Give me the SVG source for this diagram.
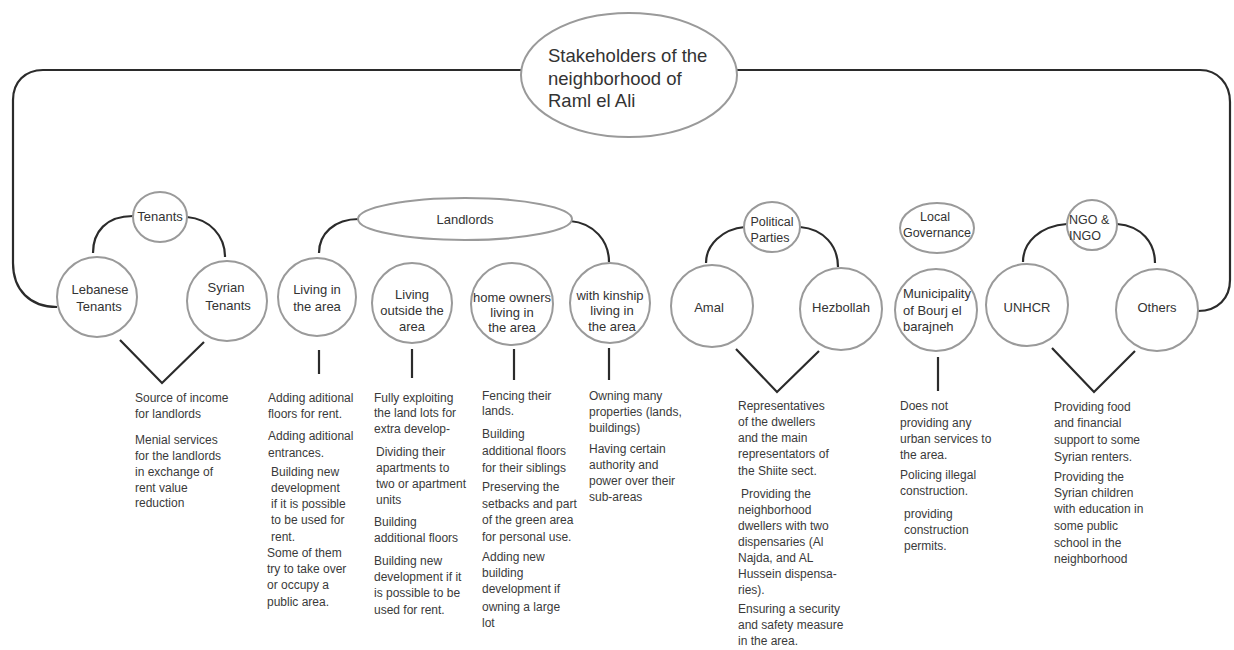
<svg xmlns="http://www.w3.org/2000/svg" width="1234" height="650" viewBox="0 0 1234 650">
  <style>
    .bubble { fill: #ffffff; stroke: #9a9a9a; stroke-width: 2; }
    .lbl { font-family: "Liberation Sans", Arial, sans-serif; font-size: 13px; fill: #333333; text-anchor: middle; }
    .lbl-l { font-family: "Liberation Sans", Arial, sans-serif; font-size: 13px; fill: #333333; }
    .title { font-family: "Liberation Sans", Arial, sans-serif; font-size: 18.5px; fill: #333333; }
    .blk { font-family: "Liberation Sans", Arial, sans-serif; font-size: 12px; fill: #3a3a3a; }
    #connectors path { fill: none; stroke: #2b2b2b; stroke-width: 2.2; }
  </style>
  <rect width="1234" height="650" fill="#ffffff"/>

  <!-- connectors: outer frame, group arcs, branch lines -->
  <g id="connectors">
    <path d="M521,70 L43,70 C25,70 13,82 13,100 L13,263 C13,290 30,307 57,307"/>
    <path d="M737,70 L1200,70 C1218,70 1230,84 1230,102 L1230,280 C1230,298 1218,311 1198,311"/>
    <!-- tenants -->
    <path d="M133,216 C106,216 93,232 93,253"/>
    <path d="M187,217 C210,219 225,236 225,257"/>
    <path d="M120,340 L162,383 L204,342"/>
    <!-- landlords -->
    <path d="M359,219 C334,219 319,234 319,253"/>
    <path d="M570,221 C594,223 609,241 609,262"/>
    <path d="M319,350 L319,374"/>
    <path d="M412,349 L412,378"/>
    <path d="M514,349 L514,380"/>
    <path d="M609,348 L609,380"/>
    <!-- political parties -->
    <path d="M745,227 C722,229 706,245 706,263"/>
    <path d="M800,227 C824,229 838,246 838,267"/>
    <path d="M736,349 L777,392 L819,351"/>
    <!-- local governance -->
    <path d="M938,357 L938,391"/>
    <!-- ngo -->
    <path d="M1067,224 C1040,226 1023,242 1023,262"/>
    <path d="M1117,224 C1142,226 1155,243 1155,263"/>
    <path d="M1052,348 L1094,392 L1135,351"/>
  </g>

  <g id="root">
    <ellipse class="bubble" cx="629" cy="75" rx="108" ry="62"/>
    <text class="title"><tspan x="548" y="62">Stakeholders of the</tspan><tspan x="548" y="85">neighborhood of</tspan><tspan x="548" y="107">Raml el Ali</tspan></text>
  </g>

  <!-- tenants -->
  <g id="tenants">
    <ellipse class="bubble" cx="160" cy="217" rx="27" ry="25"/>
    <text class="lbl" x="160" y="221">Tenants</text>
  </g>
  <g id="lebanese-tenants">
    <circle class="bubble" cx="97" cy="297" r="40"/>
    <text class="lbl"><tspan x="100" y="294">Lebanese</tspan><tspan x="99" y="311">Tenants</tspan></text>
  </g>
  <g id="syrian-tenants">
    <circle class="bubble" cx="227" cy="301" r="40"/>
    <text class="lbl"><tspan x="226" y="292">Syrian</tspan><tspan x="228" y="310">Tenants</tspan></text>
  </g>

  <!-- landlords -->
  <g id="landlords">
    <ellipse class="bubble" cx="465" cy="219" rx="107" ry="21"/>
    <text class="lbl" x="465" y="224">Landlords</text>
  </g>
  <g id="living-in-area">
    <circle class="bubble" cx="317" cy="297" r="39"/>
    <text class="lbl"><tspan x="317" y="294">Living in</tspan><tspan x="317" y="311">the area</tspan></text>
  </g>
  <g id="living-outside">
    <circle class="bubble" cx="412" cy="303" r="40"/>
    <text class="lbl"><tspan x="412" y="299">Living</tspan><tspan x="412" y="315">outside the</tspan><tspan x="412" y="331">area</tspan></text>
  </g>
  <g id="home-owners">
    <circle class="bubble" cx="512" cy="304" r="41"/>
    <text class="lbl"><tspan x="512" y="302">home owners</tspan><tspan x="512" y="317">living in</tspan><tspan x="512" y="332">the area</tspan></text>
  </g>
  <g id="kinship">
    <circle class="bubble" cx="610" cy="303" r="40"/>
    <text class="lbl"><tspan x="610" y="300">with kinship</tspan><tspan x="612" y="315">living in</tspan><tspan x="612" y="331">the area</tspan></text>
  </g>

  <!-- political parties -->
  <g id="political-parties">
    <ellipse class="bubble" cx="772" cy="227" rx="28" ry="25"/>
    <text class="lbl" style="font-size:12.5px"><tspan x="772" y="226">Political</tspan><tspan x="770" y="242">Parties</tspan></text>
  </g>
  <g id="amal">
    <circle class="bubble" cx="712" cy="306" r="41"/>
    <text class="lbl" x="709" y="312">Amal</text>
  </g>
  <g id="hezbollah">
    <circle class="bubble" cx="841" cy="309" r="41"/>
    <text class="lbl" x="841" y="312">Hezbollah</text>
  </g>

  <!-- local governance -->
  <g id="local-governance">
    <ellipse class="bubble" cx="937" cy="228" rx="37" ry="25"/>
    <text class="lbl" style="font-size:12.5px"><tspan x="935" y="221">Local</tspan><tspan x="937" y="237">Governance</tspan></text>
  </g>
  <g id="municipality">
    <circle class="bubble" cx="936" cy="310" r="41"/>
    <text class="lbl-l"><tspan x="903" y="298">Municipality</tspan><tspan x="903" y="315">of Bourj el</tspan><tspan x="903" y="331">barajneh</tspan></text>
  </g>

  <!-- ngo -->
  <g id="ngo">
    <ellipse class="bubble" cx="1092" cy="225" rx="25" ry="25"/>
    <text class="lbl-l" style="font-size:12.5px"><tspan x="1069" y="224">NGO &amp;</tspan><tspan x="1069" y="240">INGO</tspan></text>
  </g>
  <g id="unhcr">
    <circle class="bubble" cx="1027" cy="305" r="41"/>
    <text class="lbl" x="1027" y="312">UNHCR</text>
  </g>
  <g id="others">
    <circle class="bubble" cx="1157" cy="310" r="41"/>
    <text class="lbl" x="1157" y="312">Others</text>
  </g>

  <!-- role descriptions -->
  <g id="tenants-roles">
    <text class="blk">
      <tspan x="135" y="402">Source of income</tspan>
      <tspan x="135" y="418">for landlords</tspan>
      <tspan x="135" y="444">Menial services</tspan>
      <tspan x="135" y="460">for the landlords</tspan>
      <tspan x="135" y="476">in exchange of</tspan>
      <tspan x="135" y="492">rent value</tspan>
      <tspan x="135" y="507">reduction</tspan>
    </text>
  </g>
  <g id="living-in-area-roles">
    <text class="blk">
      <tspan x="268" y="402">Adding aditional</tspan>
      <tspan x="268" y="418">floors for rent.</tspan>
      <tspan x="268" y="440">Adding aditional</tspan>
      <tspan x="268" y="457">entrances.</tspan>
      <tspan x="271" y="476">Building new</tspan>
      <tspan x="271" y="492">development</tspan>
      <tspan x="271" y="508">if it is possible</tspan>
      <tspan x="271" y="524">to be used for</tspan>
      <tspan x="271" y="541">rent.</tspan>
      <tspan x="267" y="557">Some of them</tspan>
      <tspan x="267" y="573">try to take over</tspan>
      <tspan x="267" y="589">or occupy a</tspan>
      <tspan x="267" y="606">public area.</tspan>
    </text>
  </g>
  <g id="living-outside-roles">
    <text class="blk">
      <tspan x="374" y="402">Fully exploiting</tspan>
      <tspan x="374" y="417">the land lots for</tspan>
      <tspan x="374" y="433">extra develop-</tspan>
      <tspan x="376" y="456">Dividing their</tspan>
      <tspan x="376" y="472">apartments to</tspan>
      <tspan x="376" y="488">two or apartment</tspan>
      <tspan x="376" y="504">units</tspan>
      <tspan x="374" y="526">Building</tspan>
      <tspan x="374" y="542">additional floors</tspan>
      <tspan x="374" y="565">Building new</tspan>
      <tspan x="374" y="581">development if it</tspan>
      <tspan x="374" y="597">is possible to be</tspan>
      <tspan x="374" y="614">used for rent.</tspan>
    </text>
  </g>
  <g id="home-owners-roles">
    <text class="blk">
      <tspan x="482" y="400">Fencing their</tspan>
      <tspan x="482" y="415">lands.</tspan>
      <tspan x="482" y="438">Building</tspan>
      <tspan x="482" y="455">additional floors</tspan>
      <tspan x="482" y="472">for their siblings</tspan>
      <tspan x="482" y="491">Preserving the</tspan>
      <tspan x="482" y="508">setbacks and part</tspan>
      <tspan x="482" y="524">of the green area</tspan>
      <tspan x="482" y="541">for personal use.</tspan>
      <tspan x="482" y="561">Adding new</tspan>
      <tspan x="482" y="577">building</tspan>
      <tspan x="482" y="593">development if</tspan>
      <tspan x="482" y="611">owning a large</tspan>
      <tspan x="482" y="627">lot</tspan>
    </text>
  </g>
  <g id="kinship-roles">
    <text class="blk">
      <tspan x="589" y="400">Owning many</tspan>
      <tspan x="589" y="416">properties (lands,</tspan>
      <tspan x="589" y="432">buildings)</tspan>
      <tspan x="589" y="453">Having certain</tspan>
      <tspan x="589" y="469">authority and</tspan>
      <tspan x="589" y="485">power over their</tspan>
      <tspan x="589" y="501">sub-areas</tspan>
    </text>
  </g>
  <g id="political-roles">
    <text class="blk">
      <tspan x="738" y="410">Representatives</tspan>
      <tspan x="738" y="426">of the dwellers</tspan>
      <tspan x="738" y="442">and the main</tspan>
      <tspan x="738" y="458">representators of</tspan>
      <tspan x="738" y="475">the Shiite sect.</tspan>
      <tspan x="741" y="498">Providing the</tspan>
      <tspan x="738" y="514">neighborhood</tspan>
      <tspan x="738" y="530">dwellers with two</tspan>
      <tspan x="738" y="546">dispensaries (Al</tspan>
      <tspan x="738" y="562">Najda, and AL</tspan>
      <tspan x="738" y="578">Hussein dispensa-</tspan>
      <tspan x="738" y="594">ries).</tspan>
      <tspan x="738" y="613">Ensuring a security</tspan>
      <tspan x="738" y="629">and safety measure</tspan>
      <tspan x="738" y="645">in the area.</tspan>
    </text>
  </g>
  <g id="municipality-roles">
    <text class="blk">
      <tspan x="900" y="410">Does not</tspan>
      <tspan x="900" y="427">providing any</tspan>
      <tspan x="900" y="443">urban services to</tspan>
      <tspan x="900" y="459">the area.</tspan>
      <tspan x="900" y="479">Policing illegal</tspan>
      <tspan x="900" y="495">construction.</tspan>
      <tspan x="904" y="518">providing</tspan>
      <tspan x="904" y="534">construction</tspan>
      <tspan x="904" y="550">permits.</tspan>
    </text>
  </g>
  <g id="ngo-roles">
    <text class="blk">
      <tspan x="1054" y="411">Providing food</tspan>
      <tspan x="1054" y="427">and financial</tspan>
      <tspan x="1054" y="444">support to some</tspan>
      <tspan x="1054" y="461">Syrian renters.</tspan>
      <tspan x="1054" y="481">Providing  the</tspan>
      <tspan x="1054" y="497">Syrian children</tspan>
      <tspan x="1054" y="513">with education in</tspan>
      <tspan x="1054" y="530">some public</tspan>
      <tspan x="1054" y="547">school in the</tspan>
      <tspan x="1054" y="563">neighborhood</tspan>
    </text>
  </g>
</svg>
